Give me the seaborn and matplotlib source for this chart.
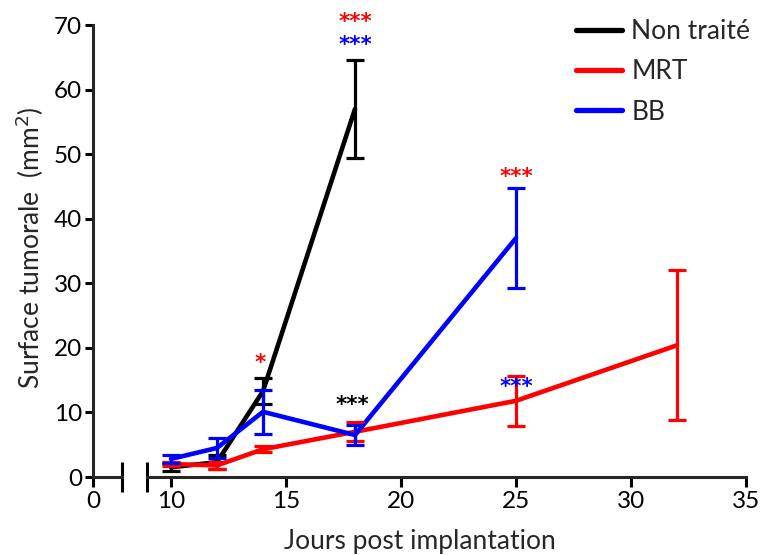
import matplotlib
matplotlib.use("Agg")
import matplotlib.pyplot as plt
import seaborn as sns
import pandas as pd

# Mean tumour surface (mm²) and SEM per group, by day post implantation
days_nt = [10, 12, 14, 18]
mean_nt = [1.5, 2.3, 13.3, 57.0]
sem_nt = [0.6, 1.1, 2.0, 7.6]

days_mrt = [10, 12, 14, 18, 25, 32]
mean_mrt = [2.0, 1.8, 4.3, 7.0, 11.8, 20.4]
sem_mrt = [0.3, 0.6, 0.5, 1.5, 3.9, 11.6]

days_bb = [10, 12, 14, 18, 25]
mean_bb = [2.8, 4.5, 10.1, 6.5, 37.0]
sem_bb = [0.6, 1.5, 3.4, 1.5, 7.8]

groups = ["Non traité", "MRT", "BB"]
colors = {"Non traité": "black", "MRT": "#ff0000", "BB": "#0000ff"}

# Significance marks: (day, y, text, colour)
stars = [
    (18.0, 70.4, "***", "#ff0000"),
    (18.0, 66.9, "***", "#0000ff"),
    (13.87, 17.6, "*", "#ff0000"),
    (17.87, 11.1, "***", "black"),
    (25.0, 46.4, "***", "#ff0000"),
    (25.0, 13.9, "***", "#0000ff"),
]

df = pd.concat([
    pd.DataFrame({"Jour": days_nt, "Surface": mean_nt, "SEM": sem_nt, "Groupe": groups[0]}),
    pd.DataFrame({"Jour": days_mrt, "Surface": mean_mrt, "SEM": sem_mrt, "Groupe": groups[1]}),
    pd.DataFrame({"Jour": days_bb, "Surface": mean_bb, "SEM": sem_bb, "Groupe": groups[2]}),
], ignore_index=True)

sns.set_theme(style="ticks")
plt.rcParams["font.family"] = ["Lato", "DejaVu Sans"]

W, H = 762, 555
fig = plt.figure(figsize=(W / 100, H / 100), dpi=100)

def fx(px):
    return px / W

def fy(py):
    return 1 - py / H

y0, y70 = 477, 25
ax_l = fig.add_axes([fx(93), fy(y0), fx(122 - 93), fy(y70) - fy(y0)])
ax_r = fig.add_axes([fx(147), fy(y0), fx(746 - 147), fy(y70) - fy(y0)], sharey=ax_l)

lw_axis = 2.2
for ax in (ax_l, ax_r):
    for s in ("top", "right"):
        ax.spines[s].set_visible(False)
    ax.spines["bottom"].set_linewidth(lw_axis)
    ax.spines["left"].set_linewidth(lw_axis)
    ax.tick_params(width=lw_axis, length=7, labelsize=17.5, color="black",
                   labelcolor="black", pad=3)

# Left stub of the broken x axis, holding the y axis and day 0
ax_l.set_xlim(0, 1)
ax_l.set_xticks([0])
ax_l.set_ylim(0, 70)
ax_l.set_yticks(range(0, 71, 10))
ax_l.tick_params(axis="y", length=6, pad=2)

# Main segment
ax_r.spines["left"].set_visible(False)
ax_r.tick_params(axis="y", left=False, labelleft=False)
ax_r.set_xlim(35 - (746 - 147) / 23, 35)
ax_r.set_xticks([10, 15, 20, 25, 30, 35])

# Break marks at the ends of both segments
for ax, xpos in ((ax_l, 1), (ax_r, 0)):
    ax.plot([xpos], [0], marker="|", markersize=22, mew=lw_axis, color="black",
            transform=ax.transAxes, clip_on=False)

sns.lineplot(data=df, x="Jour", y="Surface", hue="Groupe", hue_order=groups,
             palette=colors, linewidth=3.3, ax=ax_r, legend=True)

for g in groups:
    d = df[df["Groupe"] == g]
    ax_r.errorbar(d["Jour"], d["Surface"], yerr=d["SEM"], fmt="none",
                  ecolor=colors[g], elinewidth=2.3, capsize=6.5, capthick=2.3)

for x, y, t, c in stars:
    ax_r.text(x, y, t, color=c, fontsize=15.5, fontweight="bold",
              family="DejaVu Sans", ha="center", va="center")

ax_r.set_xlabel("")
ax_r.set_ylabel("")
fig.text(fx(420), fy(541), "Jours post implantation", fontsize=19,
         ha="center", va="center")
fig.text(fx(30), fy(248), "Surface tumorale  (mm$^2$)", fontsize=19,
         rotation=90, ha="center", va="center")

leg = ax_r.legend(loc="upper left", bbox_to_anchor=(fx(576), fy(19)),
                  bbox_transform=fig.transFigure, frameon=False, fontsize=19,
                  handlelength=1.75, labelspacing=0.58, handletextpad=0.35,
                  borderpad=0, borderaxespad=0)
for h in leg.get_lines():
    h.set_linewidth(3.8)

fig.savefig("out.png", dpi=100)
